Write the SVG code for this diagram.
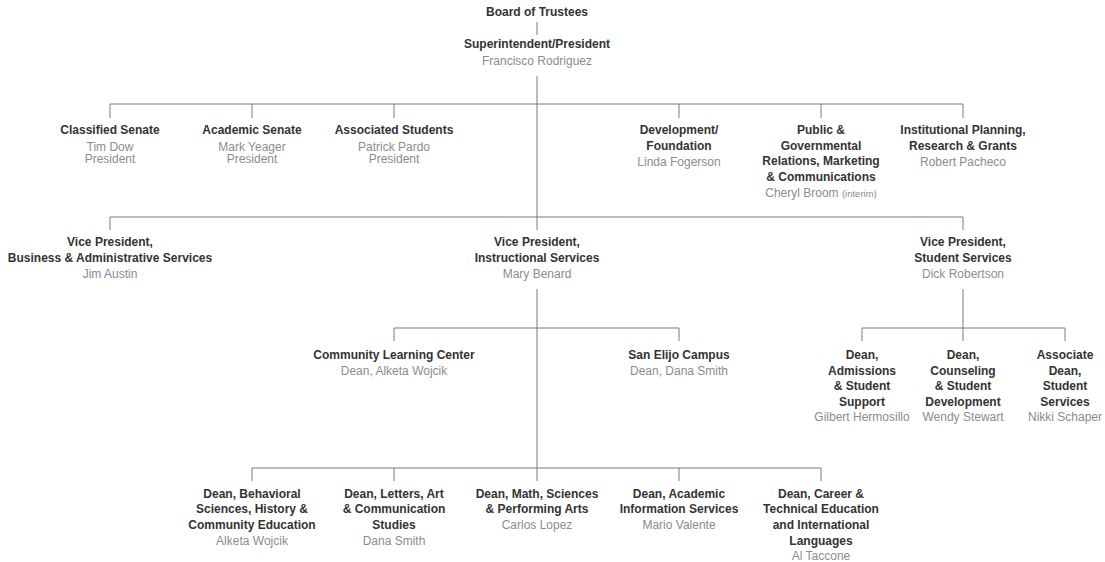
<svg xmlns="http://www.w3.org/2000/svg" width="1105" height="562" viewBox="0 0 1105 562">
<style>
.t{font-family:"Liberation Sans",Arial,sans-serif;font-size:12px;font-weight:bold;fill:#333;text-anchor:middle}
.n{font-family:"Liberation Sans",Arial,sans-serif;font-size:12px;fill:#8c8c8c;text-anchor:middle}
.s{font-size:9.5px}
.c{fill:none;stroke:#7a7a7a;stroke-width:1}
</style>
<rect width="1105" height="562" fill="#fff"/>
<g id="connectors" class="c">
<path d="M537 22V35"/>
<path d="M537 76V230"/>
<path d="M110 118V104H963V118M252 104V118M394 104V118M679 104V118M821 104V118"/>
<path d="M110 230V217H963V230"/>
<path d="M537 289V481"/>
<path d="M394 341V328H679V341"/>
<path d="M963 289V341M862 341V328H1065V341"/>
<path d="M252 481V468H821V481M394 468V481M679 468V481"/>
</g>
<g id="board"><text class="t" x="537" y="16">Board of Trustees</text></g>
<g id="president"><text class="t" x="537" y="48">Superintendent/President</text><text class="n" x="537" y="65">Francisco Rodriguez</text></g>
<g id="classified-senate"><text class="t" x="110" y="134">Classified Senate</text><text class="n" x="110" y="150.5">Tim Dow</text><text class="n" x="110" y="163">President</text></g>
<g id="academic-senate"><text class="t" x="252" y="134">Academic Senate</text><text class="n" x="252" y="150.5">Mark Yeager</text><text class="n" x="252" y="163">President</text></g>
<g id="associated-students"><text class="t" x="394" y="134">Associated Students</text><text class="n" x="394" y="150.5">Patrick Pardo</text><text class="n" x="394" y="163">President</text></g>
<g id="development"><text class="t" x="679" y="134">Development/</text><text class="t" x="679" y="149.5">Foundation</text><text class="n" x="679" y="166">Linda Fogerson</text></g>
<g id="public-relations"><text class="t" x="821" y="134">Public &amp;</text><text class="t" x="821" y="149.5">Governmental</text><text class="t" x="821" y="165">Relations, Marketing</text><text class="t" x="821" y="180.5">&amp; Communications</text><text class="n" x="821" y="197">Cheryl Broom <tspan class="s">(interim)</tspan></text></g>
<g id="institutional-planning"><text class="t" x="963" y="134">Institutional Planning,</text><text class="t" x="963" y="149.5">Research &amp; Grants</text><text class="n" x="963" y="166">Robert Pacheco</text></g>
<g id="vp-business"><text class="t" x="110" y="246">Vice President,</text><text class="t" x="110" y="262">Business &amp; Administrative Services</text><text class="n" x="110" y="278">Jim Austin</text></g>
<g id="vp-instructional"><text class="t" x="537" y="246">Vice President,</text><text class="t" x="537" y="262">Instructional Services</text><text class="n" x="537" y="278">Mary Benard</text></g>
<g id="vp-student"><text class="t" x="963" y="246">Vice President,</text><text class="t" x="963" y="262">Student Services</text><text class="n" x="963" y="278">Dick Robertson</text></g>
<g id="community-learning-center"><text class="t" x="394" y="359">Community Learning Center</text><text class="n" x="394" y="375">Dean, Alketa Wojcik</text></g>
<g id="san-elijo"><text class="t" x="679" y="359">San Elijo Campus</text><text class="n" x="679" y="375">Dean, Dana Smith</text></g>
<g id="dean-admissions"><text class="t" x="862" y="359">Dean,</text><text class="t" x="862" y="374.5">Admissions</text><text class="t" x="862" y="390">&amp; Student</text><text class="t" x="862" y="405.5">Support</text><text class="n" x="862" y="421">Gilbert Hermosillo</text></g>
<g id="dean-counseling"><text class="t" x="963" y="359">Dean,</text><text class="t" x="963" y="374.5">Counseling</text><text class="t" x="963" y="390">&amp; Student</text><text class="t" x="963" y="405.5">Development</text><text class="n" x="963" y="421">Wendy Stewart</text></g>
<g id="assoc-dean-student"><text class="t" x="1065" y="359">Associate</text><text class="t" x="1065" y="374.5">Dean,</text><text class="t" x="1065" y="390">Student</text><text class="t" x="1065" y="405.5">Services</text><text class="n" x="1065" y="421">Nikki Schaper</text></g>
<g id="dean-behavioral"><text class="t" x="252" y="497.5">Dean, Behavioral</text><text class="t" x="252" y="513">Sciences, History &amp;</text><text class="t" x="252" y="529">Community Education</text><text class="n" x="252" y="545">Alketa Wojcik</text></g>
<g id="dean-letters"><text class="t" x="394" y="497.5">Dean, Letters, Art</text><text class="t" x="394" y="513">&amp; Communication</text><text class="t" x="394" y="529">Studies</text><text class="n" x="394" y="545">Dana Smith</text></g>
<g id="dean-math"><text class="t" x="537" y="497.5">Dean, Math, Sciences</text><text class="t" x="537" y="513">&amp; Performing Arts</text><text class="n" x="537" y="529">Carlos Lopez</text></g>
<g id="dean-academic-info"><text class="t" x="679" y="497.5">Dean, Academic</text><text class="t" x="679" y="513">Information Services</text><text class="n" x="679" y="529">Mario Valente</text></g>
<g id="dean-career"><text class="t" x="821" y="497.5">Dean, Career &amp;</text><text class="t" x="821" y="513">Technical Education</text><text class="t" x="821" y="529">and International</text><text class="t" x="821" y="544.5">Languages</text><text class="n" x="821" y="560">Al Taccone</text></g>
</svg>
